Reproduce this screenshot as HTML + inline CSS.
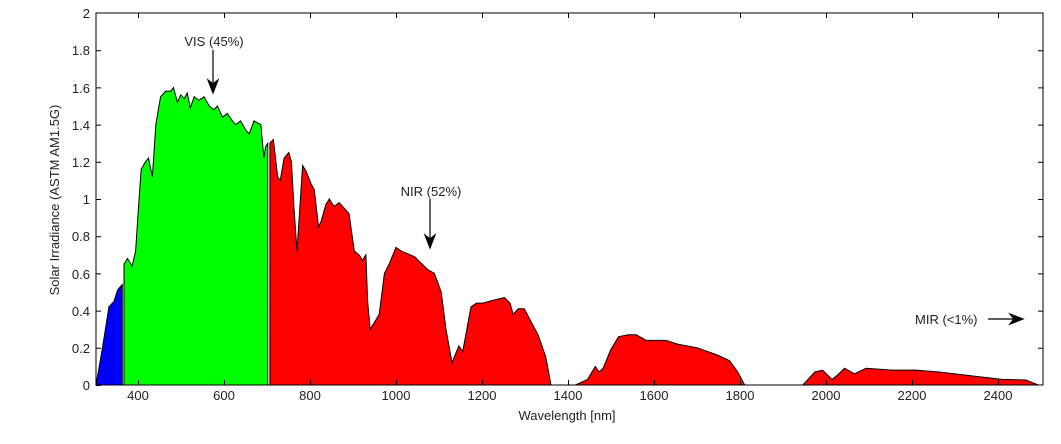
<!DOCTYPE html>
<html><head><style>
body{margin:0;background:#fff;}
svg{display:block;font-family:"Liberation Sans",sans-serif;}
</style></head><body>
<svg width="1061" height="444" viewBox="0 0 1061 444" xmlns="http://www.w3.org/2000/svg">
<rect width="1061" height="444" fill="#fff"/>
<g transform="translate(96,385) scale(0.43045,-186) translate(-300,0)" stroke="#000" stroke-width="1" vector-effect="non-scaling-stroke">
<polygon vector-effect="non-scaling-stroke" fill="#0000ff" points="300,0 315,0.2 330,0.42 342,0.45 350,0.51 357,0.53 361,0.54 361,0"/>
<polygon vector-effect="non-scaling-stroke" fill="#00ff00" points="365,0 365,0.65 373,0.68 384,0.64 392,0.72 400,1.0 405,1.16 415,1.2 422,1.22 431,1.12 439,1.4 450,1.55 462,1.58 474,1.58 480,1.6 489,1.52 497,1.56 505,1.54 512,1.57 519,1.49 528,1.55 539,1.53 551,1.55 563,1.5 574,1.48 582,1.5 594,1.44 605,1.46 617,1.42 624,1.4 636,1.42 648,1.37 656,1.35 667,1.42 683,1.4 690,1.22 694,1.28 699,1.3 699,0"/>
<polygon vector-effect="non-scaling-stroke" fill="#ff0000" points="704,0 704,1.3 712,1.32 722,1.12 728,1.1 737,1.22 748,1.25 754,1.2 760,0.95 767,0.72 772,0.9 780,1.18 788,1.15 800,1.08 807,1.05 817,0.85 823,0.88 834,0.97 842,1.0 853,0.96 865,0.98 877,0.95 888,0.92 900,0.72 911,0.7 919,0.67 927,0.7 931,0.45 937,0.3 945,0.33 958,0.38 970,0.6 981,0.65 997,0.74 1009,0.72 1040,0.69 1071,0.62 1086,0.6 1102,0.5 1113,0.3 1127,0.12 1143,0.21 1152,0.18 1171,0.42 1184,0.44 1198,0.44 1230,0.46 1249,0.47 1262,0.44 1269,0.38 1281,0.41 1295,0.41 1313,0.33 1327,0.27 1345,0.15 1357,0 1414,0 1442,0.03 1460,0.1 1469,0.07 1478,0.09 1496,0.19 1514,0.26 1537,0.27 1555,0.27 1578,0.24 1596,0.24 1624,0.24 1651,0.22 1697,0.2 1745,0.16 1772,0.13 1791,0.07 1807,0 1942,0 1970,0.07 1988,0.08 2010,0.03 2021,0.05 2039,0.09 2062,0.06 2089,0.09 2149,0.08 2204,0.08 2259,0.07 2332,0.05 2405,0.03 2460,0.027 2489,0"/>
</g>
<rect x="96" y="13" width="947" height="372" fill="none" stroke="#000" stroke-width="1"/>
<g stroke="#000" stroke-width="1">
<path d="M96 385.5h5M96 348.3h5M96 311.1h5M96 273.9h5M96 236.7h5M96 199.5h5M96 162.3h5M96 125.1h5M96 87.9h5M96 50.7h5M1043 348.3h-5M1043 311.1h-5M1043 273.9h-5M1043 236.7h-5M1043 199.5h-5M1043 162.3h-5M1043 125.1h-5M1043 87.9h-5M1043 50.7h-5"/>
<path d="M138.5 385v-5M224.5 385v-5M310.5 385v-5M396.5 385v-5M482.5 385v-5M568.5 385v-5M654.5 385v-5M740.5 385v-5M826.5 385v-5M912.5 385v-5M998.5 385v-5M138.5 13v5M224.5 13v5M310.5 13v5M396.5 13v5M482.5 13v5M568.5 13v5M654.5 13v5M740.5 13v5M826.5 13v5M912.5 13v5M998.5 13v5"/>
</g>
<g font-size="13" fill="#222" text-anchor="end">
<text x="90" y="390">0</text><text x="90" y="353">0.2</text><text x="90" y="316">0.4</text><text x="90" y="279">0.6</text><text x="90" y="241">0.8</text><text x="90" y="204">1</text><text x="90" y="167">1.2</text><text x="90" y="130">1.4</text><text x="90" y="93">1.6</text><text x="90" y="55">1.8</text><text x="90" y="18">2</text>
</g>
<g font-size="13" fill="#222" text-anchor="middle">
<text x="138" y="400">400</text><text x="224" y="400">600</text><text x="310" y="400">800</text><text x="396" y="400">1000</text><text x="482" y="400">1200</text><text x="568" y="400">1400</text><text x="654" y="400">1600</text><text x="740" y="400">1800</text><text x="826" y="400">2000</text><text x="912" y="400">2200</text><text x="998" y="400">2400</text>
<text x="567" y="420">Wavelength [nm]</text>
<text transform="translate(59,200) rotate(-90)">Solar Irradiance (ASTM AM1.5G)</text>
<text x="214" y="46">VIS (45%)</text>
<text x="431" y="196">NIR (52%)</text>
</g>
<text x="915" y="324" font-size="13" fill="#222">MIR (&lt;1%)</text>
<g stroke="#000" stroke-width="1.2" fill="#000">
<path d="M213 50V90" fill="none"/><path d="M208 80L213 93L218 80L213 84Z"/>
<path d="M430 199V245" fill="none"/><path d="M425 235L430 248L435 235L430 239Z"/>
<path d="M988 319H1020" fill="none"/><path d="M1010 314L1023 319L1010 324L1014 319Z"/>
</g>
</svg>
</body></html>
